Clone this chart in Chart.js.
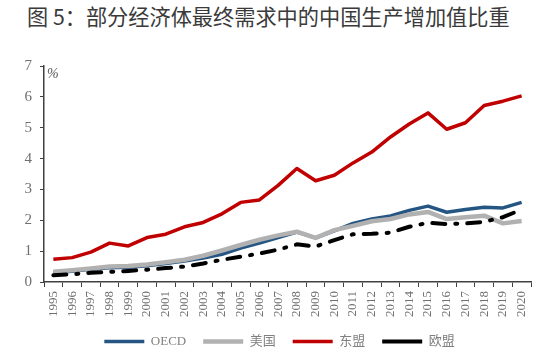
<!DOCTYPE html>
<html><head><meta charset="utf-8">
<script src="https://cdn.jsdelivr.net/npm/chart.js@4"></script>
<style>
html,body{margin:0;padding:0;background:#fff;}
#wrap{position:relative;width:543px;height:356px;}
#title{position:absolute;left:27px;top:3px;font-family:"Noto Sans CJK SC";font-size:21.2px;color:#3a3a3a;white-space:nowrap;line-height:26px;}
canvas{position:absolute;left:0;top:0;}
</style></head>
<body>
<div id="wrap">
<div id="title">图 5：部分经济体最终需求中的中国生产增加值比重</div>
<canvas id="c" width="543" height="356"></canvas>
</div>
<script>
const years = ["1995","1996","1997","1998","1999","2000","2001","2002","2003","2004","2005","2006","2007","2008","2009","2010","2011","2012","2013","2014","2015","2016","2017","2018","2019","2020"];
const oecd  = [0.30,0.35,0.41,0.46,0.48,0.53,0.60,0.68,0.78,0.90,1.10,1.26,1.44,1.62,1.43,1.66,1.90,2.04,2.14,2.32,2.46,2.26,2.35,2.42,2.40,2.58];
const usa   = [0.33,0.38,0.44,0.50,0.52,0.57,0.64,0.72,0.85,1.02,1.20,1.37,1.51,1.63,1.43,1.68,1.82,1.97,2.04,2.19,2.27,2.04,2.10,2.15,1.90,1.98];
const asean = [0.74,0.79,0.97,1.26,1.17,1.44,1.55,1.79,1.93,2.21,2.58,2.66,3.13,3.68,3.28,3.46,3.86,4.21,4.70,5.12,5.48,4.95,5.16,5.72,5.86,6.03];
const eu    = [0.22,0.25,0.30,0.33,0.36,0.40,0.45,0.50,0.60,0.72,0.82,0.92,1.05,1.22,1.15,1.36,1.55,1.56,1.60,1.79,1.92,1.88,1.90,1.95,2.10,2.35];
const seriesNames = ["OECD","美国","东盟","欧盟"];
const yTicks = [0,1,2,3,4,5,6,7];
const unitLabel = "%";

const unitPlugin = {
  id:'unit',
  afterLayout(chart){
    const lg = chart.legend;
    if (lg) { lg.left += 14; lg.right += 14; lg.top -= 6; lg.bottom -= 6; }
  },
  afterDraw(chart){
    const ctx = chart.ctx, a = chart.chartArea;
    ctx.save();
    ctx.font = 'italic 14px "Liberation Serif"';
    ctx.fillStyle = '#555';
    ctx.textBaseline = 'middle';
    ctx.fillText(unitLabel, a.left + 3, a.top + 8);
    ctx.restore();
  }
};

new Chart(document.getElementById('c'), {
  type:'line',
  data:{
    labels: years,
    datasets:[
      {label:seriesNames[0], data:oecd, borderColor:'#255683', borderWidth:3.5, order:4},
      {label:seriesNames[1], data:usa, borderColor:'#b1b1b1', borderWidth:4.5, order:3},
      {label:seriesNames[2], data:asean, borderColor:'#c00000', borderWidth:3.5, order:2},
      {label:seriesNames[3], data:eu, borderColor:'#000000', borderWidth:4, borderDash:[13,10,2,10], borderCapStyle:'round', order:1}
    ]
  },
  options:{
    responsive:false,
    animation:false,
    elements:{point:{radius:0}, line:{tension:0, borderJoinStyle:'round', fill:false}},
    layout:{padding:{top:66, right:12, bottom:0, left:0}},
    plugins:{
      tooltip:{enabled:false},
      title:{display:false},
      legend:{
        position:'bottom',
        maxHeight:32,
        labels:{
          usePointStyle:true, pointStyle:'line', pointStyleWidth:40,
          boxHeight:10,
          padding:17,
          color:'#808080',
          font:{family:'"Liberation Serif","Noto Sans CJK SC"', size:13},
          sort:(a,b)=>a.datasetIndex-b.datasetIndex
        }
      }
    },
    scales:{
      x:{
        offset:true,
        grid:{display:true, offset:true, drawOnChartArea:false, drawTicks:true, tickLength:5, color:'#404040', lineWidth:1},
        border:{display:true, color:'#404040', width:1.5},
        ticks:{autoSkip:false, maxRotation:90, minRotation:90, color:'#707070', padding:4,
          font:{family:'"Liberation Serif"', size:13}},
        afterFit(s){ s.height = 42; }
      },
      y:{
        min:0, max:7,
        afterBuildTicks(s){ s.ticks = yTicks.map(v=>({value:v})); },
        grid:{display:true, drawOnChartArea:false, drawTicks:true, tickLength:4, color:'#404040'},
        border:{display:true, color:'#404040', width:1.5},
        ticks:{color:'#707070', padding:8, font:{family:'"Liberation Serif"', size:15}},
        afterFit(s){ s.width = 44; }
      }
    }
  },
  plugins:[unitPlugin]
});
</script>
</body></html>
